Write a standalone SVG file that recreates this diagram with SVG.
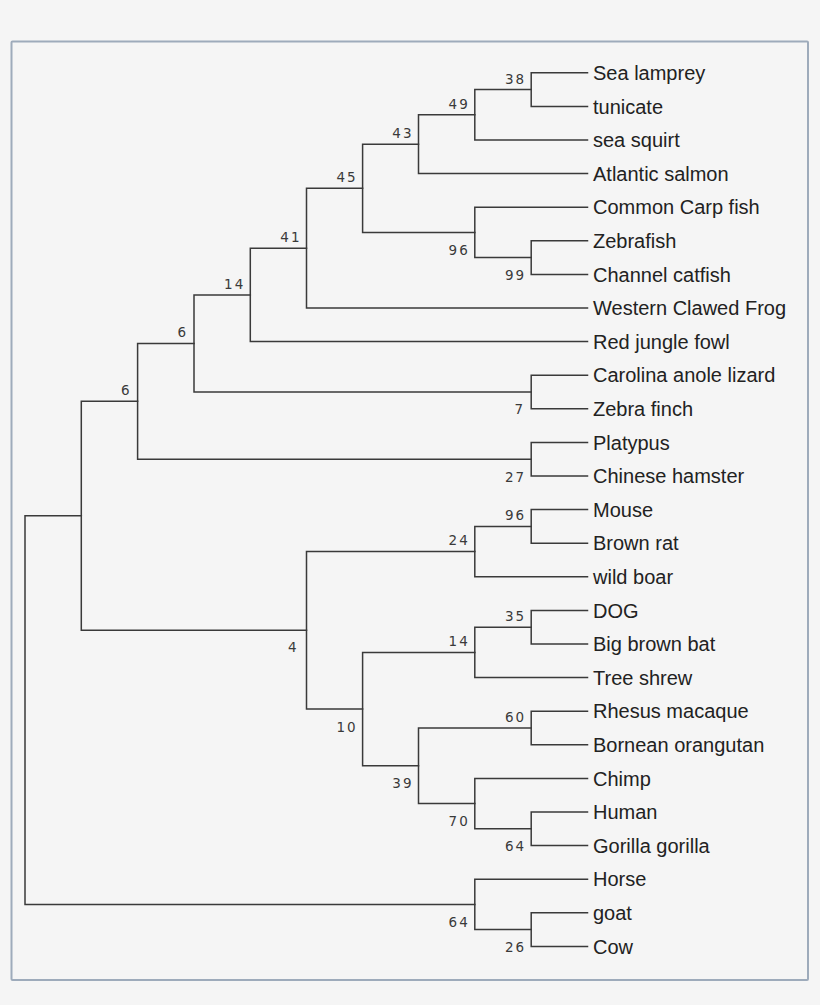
<svg xmlns="http://www.w3.org/2000/svg" width="820" height="1005" viewBox="0 0 820 1005">
<style>
.bg{fill:#f5f5f5}
.frame{fill:#f5f5f5;stroke:#9eabbb;stroke-width:2}
.edge{fill:none;stroke:#3a3a3a;stroke-width:1.5;stroke-linecap:square}
.leaf{font-family:"Liberation Sans",Arial,sans-serif;font-size:20px;fill:#222}
.bs{font-family:"DejaVu Sans",sans-serif;font-size:13.5px;letter-spacing:2px;fill:#3a3a3a;text-anchor:end}
</style>
<rect class="bg" x="0" y="0" width="820" height="1005"/>
<rect class="frame" x="11.5" y="41.5" width="796.5" height="938.5" rx="1"/>
<g id="connectors">
<path class="edge" d="M531.2 89.6V72.8H587.5M531.2 89.6V106.4H587.5"/>
<path class="edge" d="M474.8 114.8V89.6H531.2M474.8 114.8V140H587.5"/>
<path class="edge" d="M418.5 144.2V114.8H474.8M418.5 144.2V173.6H587.5"/>
<path class="edge" d="M531.2 257.6V240.8H587.5M531.2 257.6V274.4H587.5"/>
<path class="edge" d="M474.8 232.4V207.2H587.5M474.8 232.4V257.6H531.2"/>
<path class="edge" d="M362.6 188.3V144.2H418.5M362.6 188.3V232.4H474.8"/>
<path class="edge" d="M306.5 248.15V188.3H362.6M306.5 248.15V308H587.5"/>
<path class="edge" d="M250.3 294.9V248.15H306.5M250.3 294.9V341.6H587.5"/>
<path class="edge" d="M531.2 392V375.2H587.5M531.2 392V408.8H587.5"/>
<path class="edge" d="M194 343.4V294.9H250.3M194 343.4V392H531.2"/>
<path class="edge" d="M531.2 459.2V442.4H587.5M531.2 459.2V476H587.5"/>
<path class="edge" d="M137.6 401.3V343.4H194M137.6 401.3V459.2H531.2"/>
<path class="edge" d="M531.2 526.4V509.6H587.5M531.2 526.4V543.2H587.5"/>
<path class="edge" d="M474.8 551.6V526.4H531.2M474.8 551.6V576.8H587.5"/>
<path class="edge" d="M531.2 627.2V610.4H587.5M531.2 627.2V644H587.5"/>
<path class="edge" d="M474.8 652.4V627.2H531.2M474.8 652.4V677.6H587.5"/>
<path class="edge" d="M531.2 728V711.2H587.5M531.2 728V744.8H587.5"/>
<path class="edge" d="M531.2 828.8V812H587.5M531.2 828.8V845.6H587.5"/>
<path class="edge" d="M474.8 803.6V778.4H587.5M474.8 803.6V828.8H531.2"/>
<path class="edge" d="M418.5 765.8V728H531.2M418.5 765.8V803.6H474.8"/>
<path class="edge" d="M362.6 709.1V652.4H474.8M362.6 709.1V765.8H418.5"/>
<path class="edge" d="M306.5 630.35V551.6H474.8M306.5 630.35V709.1H362.6"/>
<path class="edge" d="M81.3 515.8V401.3H137.6M81.3 515.8V630.35H306.5"/>
<path class="edge" d="M531.2 929.6V912.8H587.5M531.2 929.6V946.4H587.5"/>
<path class="edge" d="M474.8 904.4V879.2H587.5M474.8 904.4V929.6H531.2"/>
<path class="edge" d="M25 710.1V515.8H81.3M25 710.1V904.4H474.8"/>
</g>
<g id="leaves">
<g id="leaf-sea-lamprey"><text class="leaf" x="593" y="80">Sea lamprey</text></g>
<g id="leaf-tunicate"><text class="leaf" x="593" y="113.6">tunicate</text></g>
<g id="leaf-sea-squirt"><text class="leaf" x="593" y="147.2">sea squirt</text></g>
<g id="leaf-atlantic-salmon"><text class="leaf" x="593" y="180.8">Atlantic salmon</text></g>
<g id="leaf-common-carp"><text class="leaf" x="593" y="214.4">Common Carp fish</text></g>
<g id="leaf-zebrafish"><text class="leaf" x="593" y="248">Zebrafish</text></g>
<g id="leaf-channel-catfish"><text class="leaf" x="593" y="281.6">Channel catfish</text></g>
<g id="leaf-western-clawed-frog"><text class="leaf" x="593" y="315.2">Western Clawed Frog</text></g>
<g id="leaf-red-jungle-fowl"><text class="leaf" x="593" y="348.8">Red jungle fowl</text></g>
<g id="leaf-carolina-anole"><text class="leaf" x="593" y="382.4">Carolina anole lizard</text></g>
<g id="leaf-zebra-finch"><text class="leaf" x="593" y="416">Zebra finch</text></g>
<g id="leaf-platypus"><text class="leaf" x="593" y="449.6">Platypus</text></g>
<g id="leaf-chinese-hamster"><text class="leaf" x="593" y="483.2">Chinese hamster</text></g>
<g id="leaf-mouse"><text class="leaf" x="593" y="516.8">Mouse</text></g>
<g id="leaf-brown-rat"><text class="leaf" x="593" y="550.4">Brown rat</text></g>
<g id="leaf-wild-boar"><text class="leaf" x="593" y="584">wild boar</text></g>
<g id="leaf-dog"><text class="leaf" x="593" y="617.6">DOG</text></g>
<g id="leaf-big-brown-bat"><text class="leaf" x="593" y="651.2">Big brown bat</text></g>
<g id="leaf-tree-shrew"><text class="leaf" x="593" y="684.8">Tree shrew</text></g>
<g id="leaf-rhesus"><text class="leaf" x="593" y="718.4">Rhesus macaque</text></g>
<g id="leaf-bornean"><text class="leaf" x="593" y="752">Bornean orangutan</text></g>
<g id="leaf-chimp"><text class="leaf" x="593" y="785.6">Chimp</text></g>
<g id="leaf-human"><text class="leaf" x="593" y="819.2">Human</text></g>
<g id="leaf-gorilla"><text class="leaf" x="593" y="852.8">Gorilla gorilla</text></g>
<g id="leaf-horse"><text class="leaf" x="593" y="886.4">Horse</text></g>
<g id="leaf-goat"><text class="leaf" x="593" y="920">goat</text></g>
<g id="leaf-cow"><text class="leaf" x="593" y="953.6">Cow</text></g>
</g>
<g id="internal-nodes">
<g id="node-A"><text class="bs" x="526.2" y="83.5">38</text></g>
<g id="node-B"><text class="bs" x="469.8" y="108.5">49</text></g>
<g id="node-C"><text class="bs" x="413.5" y="138">43</text></g>
<g id="node-D"><text class="bs" x="526.2" y="280">99</text></g>
<g id="node-E"><text class="bs" x="469.8" y="254.8">96</text></g>
<g id="node-F"><text class="bs" x="357.6" y="182">45</text></g>
<g id="node-G"><text class="bs" x="301.5" y="241.8">41</text></g>
<g id="node-H"><text class="bs" x="245.3" y="288.5">14</text></g>
<g id="node-I"><text class="bs" x="525.2" y="414.4">7</text></g>
<g id="node-J"><text class="bs" x="188" y="337">6</text></g>
<g id="node-K"><text class="bs" x="526.2" y="481.6">27</text></g>
<g id="node-L"><text class="bs" x="131.6" y="395">6</text></g>
<g id="node-M"><text class="bs" x="526.2" y="520">96</text></g>
<g id="node-N"><text class="bs" x="469.8" y="545.2">24</text></g>
<g id="node-O"><text class="bs" x="526.2" y="620.8">35</text></g>
<g id="node-P"><text class="bs" x="469.8" y="646">14</text></g>
<g id="node-Q"><text class="bs" x="526.2" y="721.6">60</text></g>
<g id="node-R"><text class="bs" x="526.2" y="851.2">64</text></g>
<g id="node-S"><text class="bs" x="469.8" y="826">70</text></g>
<g id="node-T"><text class="bs" x="413.5" y="788.2">39</text></g>
<g id="node-U"><text class="bs" x="357.6" y="731.5">10</text></g>
<g id="node-V"><text class="bs" x="298.5" y="652">4</text></g>
<g id="node-X"><text class="bs" x="526.2" y="952">26</text></g>
<g id="node-Y"><text class="bs" x="469.8" y="926.8">64</text></g>
</g>
</svg>
